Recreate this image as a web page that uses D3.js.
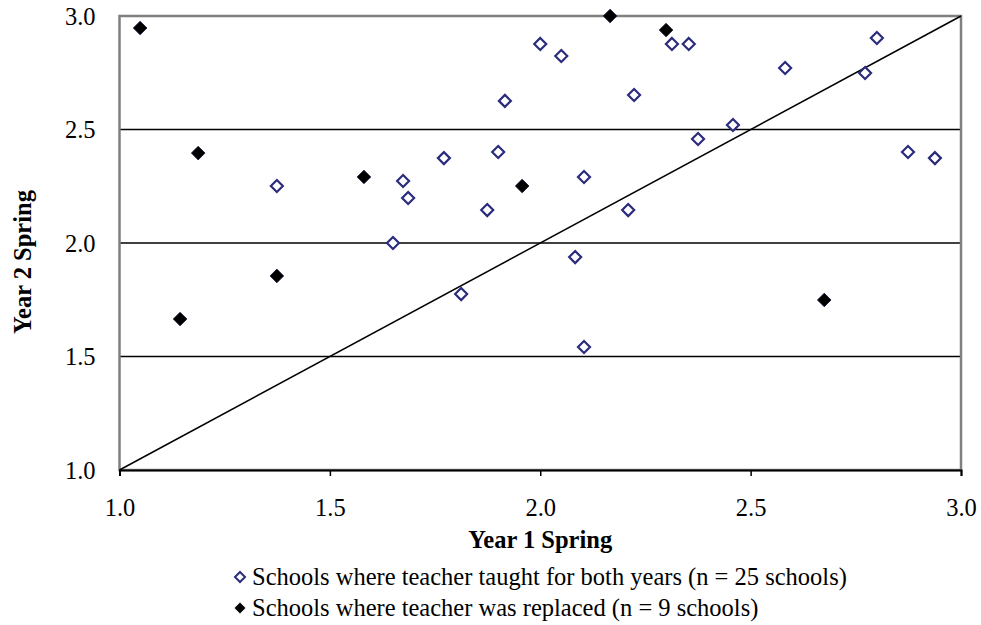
<!DOCTYPE html>
<html><head><meta charset="utf-8">
<script src="https://cdn.jsdelivr.net/npm/d3@7"></script>
<style>body{margin:0;background:#fff}svg{display:block}text{font-family:"Liberation Serif","Times New Roman",serif}</style>
</head><body>
<svg id="c" width="981" height="625"></svg>
<script>
const keptX = [1.374,1.650,1.674,1.686,1.771,1.812,1.874,1.900,1.916,2.000,2.050,2.083,2.104,2.104,2.209,2.223,2.313,2.353,2.375,2.458,2.582,2.772,2.800,2.874,2.938];
const keptY = [2.251,2.000,2.273,2.198,2.374,1.775,2.145,2.401,2.626,2.877,2.824,1.938,2.291,1.542,2.145,2.652,2.877,2.877,2.458,2.520,2.771,2.749,2.903,2.401,2.374];
const replacedX = [1.049,1.187,1.144,1.374,1.581,1.957,2.166,2.299,2.675];
const replacedY = [2.947,2.396,1.665,1.855,2.291,2.251,3.000,2.938,1.749];
const xTicks = [1.0,1.5,2.0,2.5,3.0];
const yTicks = [1.0,1.5,2.0,2.5,3.0];
const legendLabels = ["Schools where teacher taught for both years (n = 25 schools)","Schools where teacher was replaced (n = 9 schools)"];

const svg = d3.select("#c");
const L=119.5, R=961, T=16, B=470;
const FS = 24.5;
const x = d3.scaleLinear().domain([1,3]).range([L,R]);
const y = d3.scaleLinear().domain([1,3]).range([B,T]);
const navy = "#2b2c7c";

// gridlines
svg.append("g").selectAll("line").data(yTicks.filter(v=>v>1&&v<3)).join("line")
  .attr("x1",L).attr("x2",R).attr("y1",d=>y(d)).attr("y2",d=>y(d))
  .attr("stroke","#000").attr("stroke-width",1.6);

// plot border
svg.append("rect").attr("x",L).attr("y",T).attr("width",R-L).attr("height",B-T)
  .attr("fill","none").attr("stroke","#808080").attr("stroke-width",2.5);

// x axis
const xa = svg.append("g").attr("transform",`translate(0,${B})`)
  .call(d3.axisBottom(x).tickValues(xTicks).tickFormat(d3.format(".1f")).tickSize(6).tickPadding(12));
xa.attr("font-family",null);
xa.select(".domain").attr("stroke","#000").attr("stroke-width",2);
xa.selectAll(".tick line").attr("stroke","#000").attr("stroke-width",1.5);
xa.selectAll("text").attr("font-size",FS).attr("fill","#000").attr("dy",null).attr("y",46);

// y axis labels
const ya = svg.append("g").attr("transform",`translate(${L},0)`)
  .call(d3.axisLeft(y).tickValues(yTicks).tickFormat(d3.format(".1f")).tickSize(0).tickPadding(24));
ya.attr("font-family",null);
ya.select(".domain").remove();
ya.selectAll("text").attr("font-size",FS).attr("fill","#000").attr("dy","0.34em");

// diagonal
svg.append("line").attr("x1",x(1)).attr("y1",y(1)).attr("x2",x(3)).attr("y2",y(3))
  .attr("stroke","#000").attr("stroke-width",1.5);

const diamond = s => `M0,${-s}L${s},0L0,${s}L${-s},0Z`;

// kept points
svg.append("g").selectAll("path").data(keptX.map((v,i)=>[v,keptY[i]])).join("path")
  .attr("d",diamond(6)).attr("transform",d=>`translate(${x(d[0])},${y(d[1])})`)
  .attr("fill","#fff").attr("stroke",navy).attr("stroke-width",2.2);

// replaced points
svg.append("g").selectAll("path").data(replacedX.map((v,i)=>[v,replacedY[i]])).join("path")
  .attr("d",diamond(6.8)).attr("transform",d=>`translate(${x(d[0])},${y(d[1])})`)
  .attr("fill","#000").attr("stroke","#0a0a30").attr("stroke-width",0.8);

// axis titles
svg.append("text").attr("x",(L+R)/2).attr("y",548).attr("text-anchor","middle")
  .attr("font-size",FS).attr("font-weight","bold").text("Year 1 Spring");
svg.append("text").attr("transform",`translate(31,262) rotate(-90)`).attr("text-anchor","middle")
  .attr("font-size",FS).attr("font-weight","bold").text("Year 2 Spring");

// legend
const lg = svg.append("g");
const ly = [577, 608];
lg.append("path").attr("d",diamond(5)).attr("transform",`translate(240,${ly[0]})`)
  .attr("fill","#fff").attr("stroke",navy).attr("stroke-width",2);
lg.append("path").attr("d",diamond(5.5)).attr("transform",`translate(240,${ly[1]})`)
  .attr("fill","#000");
lg.selectAll("text").data(legendLabels).join("text")
  .attr("x",252).attr("y",(d,i)=>ly[i]+8).attr("font-size",FS).text(d=>d);
</script>
</body></html>
